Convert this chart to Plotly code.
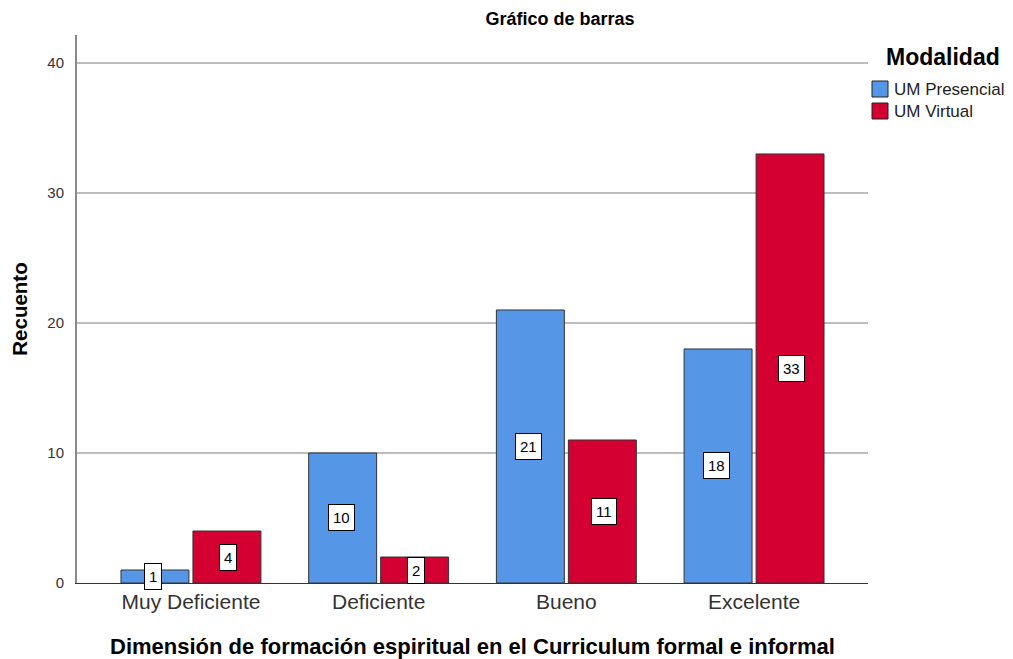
import plotly.graph_objects as go

categories = ["Muy Deficiente", "Deficiente", "Bueno", "Excelente"]
presencial = [1, 10, 21, 18]
virtual = [4, 2, 11, 33]
series_names = ["UM Presencial", "UM Virtual"]
y_ticks = [0, 10, 20, 30, 40]

BLUE = "#5596E6"
RED = "#D30031"
FONT = "Liberation Sans, Arial, sans-serif"
OFF = 8  # page body margin
W, H = 1005, 651
L, T = 77 - OFF, 35 - OFF
R, B = W - (868 - OFF), H - (583 - OFF)


def px_x(x):
    # screenshot pixel -> paper coordinate
    return (x - OFF - L) / (W - L - R)


def px_y(y):
    return (H - B - (y - OFF)) / (H - T - B)


fig = go.Figure()
for name, vals, color in [(series_names[0], presencial, BLUE), (series_names[1], virtual, RED)]:
    fig.add_trace(go.Bar(
        x=categories, y=vals, name=name,
        marker=dict(color=color, line=dict(color="#333333", width=1)),
        hoverinfo="x+y+name", showlegend=False,
    ))

# value boxes in the middle of each bar
for shift, vals in [(-0.2, presencial), (0.2, virtual)]:
    for i, v in enumerate(vals):
        fig.add_annotation(
            x=i + shift, y=v / 2, text=str(v), showarrow=False,
            font=dict(family=FONT, size=15, color="black"),
            bgcolor="white", bordercolor="black", borderwidth=1, borderpad=4,
        )

# legend drawn by hand to follow the original layout
fig.add_annotation(
    xref="paper", yref="paper", x=px_x(943), y=px_y(57), text="<b>Modalidad</b>",
    showarrow=False, xanchor="center", yanchor="middle",
    font=dict(family=FONT, size=23, color="black"),
)
for k, (name, color) in enumerate([(series_names[0], BLUE), (series_names[1], RED)]):
    top = 81 + k * 22
    fig.add_shape(
        type="rect", xref="paper", yref="paper",
        x0=px_x(872), x1=px_x(888), y0=px_y(top), y1=px_y(top + 16),
        fillcolor=color, line=dict(color="#222222", width=1),
    )
    fig.add_annotation(
        xref="paper", yref="paper", x=px_x(892), y=px_y(top + 8.5), text=name,
        showarrow=False, xanchor="left", yanchor="middle",
        font=dict(family=FONT, size=17, color="#222222"),
    )

fig.update_layout(
    width=W, height=H,
    margin=dict(l=L, r=R, t=T, b=B, autoexpand=False),
    plot_bgcolor="white", paper_bgcolor="white",
    font=dict(family=FONT, color="black"),
    barmode="group", bargap=0.233, bargroupgap=0.056,
    showlegend=False,
    title=dict(text="<b>Gráfico de barras</b>", x=(560 - OFF) / W, xanchor="center",
               y=1 - (19 - OFF) / H, yanchor="middle",
               font=dict(family=FONT, size=18, color="black")),
    xaxis=dict(
        range=[-0.607, 3.607], showgrid=False, automargin=False,
        showline=True, linecolor="#333333", linewidth=1,
        ticks="", tickfont=dict(size=21, color="#333333"),
        title=dict(text="<b>Dimensión de formación espiritual en el Curriculum formal e informal</b>",
                   font=dict(size=22, color="black"), standoff=28),
    ),
    yaxis=dict(
        range=[0, 42.15], tickvals=y_ticks, automargin=False,
        showgrid=True, gridcolor="#bdbdbd", gridwidth=1.5,
        showline=True, linecolor="#8a8a8a", linewidth=2,
        ticks="", tickfont=dict(size=15, color="#333333"), ticklabelstandoff=8,
        zeroline=False,
        title=dict(text="<b>Recuento</b>", font=dict(size=20.5, color="black"), standoff=20),
    ),
)

fig.write_html("out.html")
